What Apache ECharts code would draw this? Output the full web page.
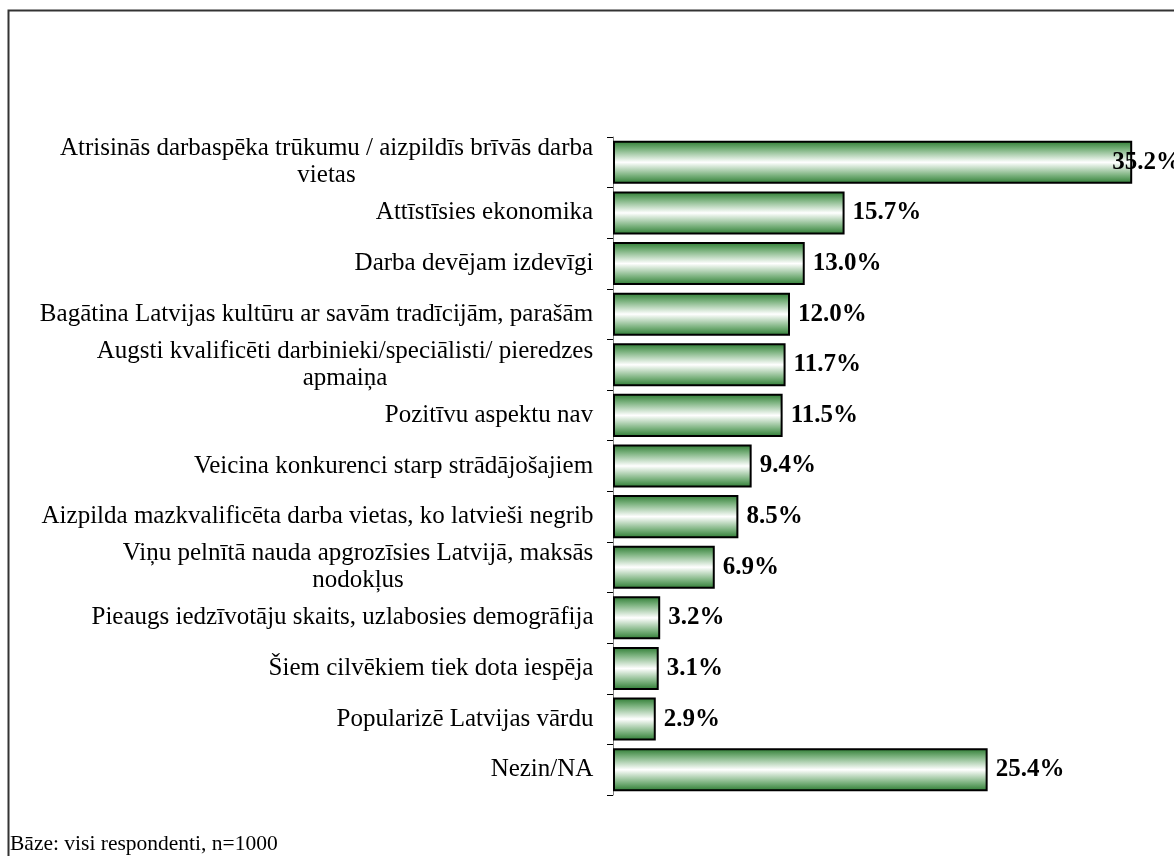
<!doctype html>
<html><head><meta charset="utf-8" />
<style>
  html,body,#app{margin:0;padding:0;width:1174px;height:856px;background:#ffffff;overflow:hidden}
</style>
<script src="https://cdn.jsdelivr.net/npm/echarts@6/dist/echarts.min.js"></script>
</head><body><div id="app"></div>
<script>
// categories top to bottom; two-line labels keep their original break
const categories = [
  'Atrisinās darbaspēka trūkumu / aizpildīs brīvās darba\nvietas',
  'Attīstīsies ekonomika',
  'Darba devējam izdevīgi',
  'Bagātina Latvijas kultūru ar savām tradīcijām, parašām',
  'Augsti kvalificēti darbinieki/speciālisti/ pieredzes\napmaiņa',
  'Pozitīvu aspektu nav',
  'Veicina konkurenci starp strādājošajiem',
  'Aizpilda mazkvalificēta darba vietas, ko latvieši negrib',
  'Viņu pelnītā nauda apgrozīsies Latvijā, maksās\nnodokļus',
  'Pieaugs iedzīvotāju skaits, uzlabosies demogrāfija',
  'Šiem cilvēkiem tiek dota iespēja',
  'Popularizē Latvijas vārdu',
  'Nezin/NA'
];
const values = [35.2, 15.7, 13.0, 12.0, 11.7, 11.5, 9.4, 8.5, 6.9, 3.2, 3.1, 2.9, 25.4];
const footnote = 'Bāze: visi respondenti, n=1000';

(function(){
  const SERIF = '"Liberation Serif", "DejaVu Serif", serif';
  const CAT_SIZE = 25;

  // measure each label so multi-line ones can be centred line by line
  const ctx = document.createElement('canvas').getContext('2d');
  ctx.font = CAT_SIZE + 'px "Liberation Serif"';
  const rich = {};
  categories.forEach(function(c, i){
    const w = Math.max.apply(null, c.split('\n').map(function(l){ return ctx.measureText(l).width; }));
    rich['r' + i] = { width: Math.ceil(w) + 1, align: 'center', fontFamily: SERIF, fontSize: CAT_SIZE, color: '#000', lineHeight: 27 };
  });

  const barFill = { type:'linear', x:0, y:0, x2:0, y2:1, colorStops:[
    { offset:0, color:'#2b7a30' },
    { offset:0.2, color:'#7db380' },
    { offset:0.5, color:'#ffffff' },
    { offset:0.8, color:'#7db380' },
    { offset:1, color:'#2b7a30' }
  ]};

  const chart = echarts.init(document.getElementById('app'));
  const option = {
    backgroundColor:'#ffffff',
    animation:false,
    grid:{ left:613, top:137, width:531, height:658 },
    xAxis:{ type:'value', min:0, max:36, show:false },
    yAxis:{
      type:'category', data:categories, inverse:true,
      axisLine:{ show:true, lineStyle:{ color:'#808080', width:1 } },
      axisTick:{ show:true, length:6, lineStyle:{ color:'#000' } },
      axisLabel:{
        margin:19, interval:0,
        formatter:function(v, idx){
          return v.split('\n').map(function(l){ return '{r' + idx + '|' + l + '}'; }).join('\n');
        },
        rich:rich
      }
    },
    series:[{
      type:'bar', barCategoryGap:'15%',
      data: values.map(function(v, i){
        const item = { value:v };
        // the longest bar runs into the frame edge, its label sits over the bar end
        if (i === 0) item.label = { offset:[-28, 0] };
        return item;
      }),
      itemStyle:{ color:barFill, borderColor:'#000', borderWidth:2 },
      label:{ show:true, position:'right', distance:8,
        formatter:function(p){ return p.value.toFixed(1) + '%'; },
        fontFamily:SERIF, fontSize:25, fontWeight:'bold', color:'#000' }
    }],
    graphic:[
      { type:'rect', shape:{ x:8.5, y:10.5, width:1300, height:1000 }, style:{ fill:null, stroke:'#333', lineWidth:2 }, silent:true },
      { type:'text', left:10, top:833, style:{ text:footnote, font:'21.5px ' + SERIF, fill:'#000' } }
    ]
  };
  chart.setOption(option);
})();
</script></body></html>
